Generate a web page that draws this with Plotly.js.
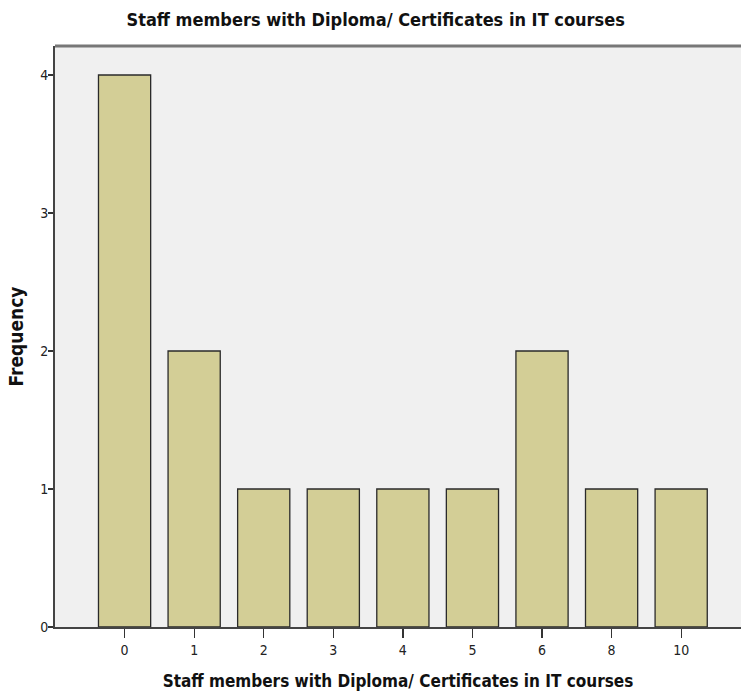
<!DOCTYPE html>
<html>
<head>
<meta charset="utf-8">
<script src="https://cdn.plot.ly/plotly-3.0.1.min.js"></script>
<style>html,body{margin:0;padding:0;background:#fff;}#chart{width:741px;height:695px;}</style>
</head>
<body>
<div id="chart"></div>
<script>
const categories = ["0", "1", "2", "3", "4", "5", "6", "8", "10"];
const frequencies = [4, 2, 1, 1, 1, 1, 2, 1, 1];
const yTicks = [0, 1, 2, 3, 4];

const FONT = '"Liberation Sans Narrow", "Arial Narrow", "DejaVu Sans Condensed", sans-serif';

const trace = {
  type: 'bar',
  x: categories,
  y: frequencies,
  marker: { color: '#d3ce96', line: { color: '#2a2a2a', width: 1.3 } },
  hoverinfo: 'x+y'
};

const layout = {
  width: 741, height: 695,
  margin: { l: 55, r: 0, t: 46, b: 68 },
  paper_bgcolor: '#ffffff',
  plot_bgcolor: '#f0f0f0',
  bargap: 0.25,
  showlegend: false,
  font: { family: FONT, color: '#222', size: 12 },
  title: {
    text: '<b>Staff members with Diploma/ Certificates in IT courses</b>',
    font: { family: FONT, size: 18, color: '#111' },
    x: 0.507, xref: 'container', y: 0.972, yref: 'container', xanchor: 'center', yanchor: 'middle'
  },
  xaxis: {
    type: 'category',
    range: [-1.0, 8.86],
    showgrid: false, zeroline: false,
    showline: true, linecolor: '#444', linewidth: 2,
    ticks: 'outside', ticklen: 9, tickwidth: 1.3, tickcolor: '#333',
    tickfont: { family: FONT, size: 14, color: '#222' },
    title: { text: '<b>Staff members with Diploma/ Certificates in IT courses</b>', font: { family: FONT, size: 17, color: '#111' }, standoff: 18 }
  },
  yaxis: {
    range: [0, 4.21],
    tickvals: yTicks,
    ticktext: yTicks.map(String),
    showgrid: false, zeroline: false,
    showline: true, linecolor: '#444', linewidth: 2,
    ticks: 'outside', ticklen: 5, tickwidth: 1.3, tickcolor: '#333',
    ticklabelstandoff: -3,
    tickfont: { family: FONT, size: 14, color: '#222' },
    title: { text: '<b>Frequency</b>', font: { family: FONT, size: 19, color: '#111' }, standoff: 12 }
  },
  shapes: [
    { type: 'line', xref: 'paper', yref: 'paper', x0: 0, x1: 1, y0: 1, y1: 1, line: { color: '#777', width: 3 } }
  ]
};

Plotly.newPlot('chart', [trace], layout, { displayModeBar: false, staticPlot: true });
</script>
</body>
</html>
